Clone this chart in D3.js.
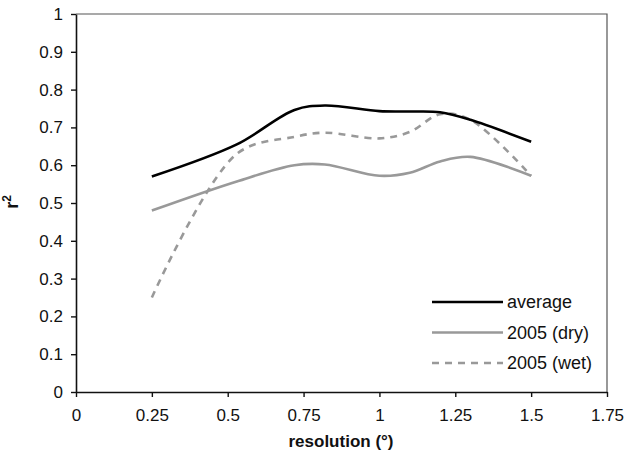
<!DOCTYPE html>
<html>
<head>
<meta charset="utf-8">
<script src="https://cdn.jsdelivr.net/npm/d3@7"></script>
<style>
  body { margin: 0; background: #fff; }
  text { font-family: "Liberation Sans", Arial, sans-serif; fill: #111; }
</style>
</head>
<body>
<div id="chart"></div>
<script>
// data
var resolution = [0.25, 0.53, 0.72, 0.82, 1.0, 1.1, 1.2, 1.3, 1.5];
var average    = [0.57, 0.655, 0.746, 0.758, 0.743, 0.742, 0.74, 0.72, 0.662];
var dry2005    = [0.48, 0.557, 0.60, 0.602, 0.572, 0.58, 0.61, 0.622, 0.572];
var wet2005    = [0.25, 0.63, 0.675, 0.686, 0.671, 0.688, 0.735, 0.72, 0.572];
var xTicks = [0, 0.25, 0.5, 0.75, 1, 1.25, 1.5, 1.75];
var yTicks = [0, 0.1, 0.2, 0.3, 0.4, 0.5, 0.6, 0.7, 0.8, 0.9, 1];

var series = [
  {name: "average", values: average, color: "#000", dash: null},
  {name: "2005 (dry)", values: dry2005, color: "#999", dash: null},
  {name: "2005 (wet)", values: wet2005, color: "#999", dash: "7,6"}
];

var W = 628, H = 458;
var margin = {top: 14, right: 21, bottom: 66, left: 76};
var width = W - margin.left - margin.right,
    height = H - margin.top - margin.bottom;

var svg = d3.select("#chart").append("svg")
  .attr("width", W).attr("height", H)
  .append("g")
  .attr("transform", "translate(" + margin.left + "," + margin.top + ")");

var x = d3.scaleLinear().domain([0, 1.75]).range([0, width]);
var y = d3.scaleLinear().domain([0, 1]).range([height, 0]);

// frame (top and right)
svg.append("path")
  .attr("d", "M0,0H" + width + "V" + height)
  .attr("fill", "none").attr("stroke", "#555").attr("stroke-width", 1.2);

// axes
var xAxis = svg.append("g")
  .attr("transform", "translate(0," + height + ")")
  .call(d3.axisBottom(x).tickValues(xTicks).tickSize(5).tickSizeOuter(0)
    .tickFormat(function(d) { return d3.format("")(d); }));
var yAxis = svg.append("g")
  .call(d3.axisLeft(y).tickValues(yTicks).tickSize(5).tickSizeOuter(0)
    .tickFormat(function(d) { return d3.format("")(d); }));

[xAxis, yAxis].forEach(function(a) {
  a.select(".domain").attr("stroke", "#111").attr("stroke-width", 1.6);
  a.selectAll(".tick line").attr("stroke", "#111").attr("stroke-width", 1.4);
  a.selectAll(".tick text").style("font-size", "17px")
    .style("font-family", "Liberation Sans, Arial, sans-serif").attr("fill", "#111");
});
xAxis.selectAll(".tick text").attr("y", 11).attr("dy", "1.05em");
yAxis.selectAll(".tick text").attr("x", -13);

// lines
var line = d3.line()
  .x(function(d, i) { return x(resolution[i]); })
  .y(function(d) { return y(d); })
  .curve(d3.curveCatmullRom);

series.slice().reverse().forEach(function(s) {
  svg.append("path")
    .datum(s.values)
    .attr("d", line)
    .attr("fill", "none")
    .attr("stroke", s.color)
    .attr("stroke-width", 2.6)
    .attr("stroke-dasharray", s.dash);
});

// legend
var legend = svg.append("g").attr("transform", "translate(356,288)");
series.forEach(function(s, i) {
  var g = legend.append("g").attr("transform", "translate(0," + (i * 30.5) + ")");
  g.append("line").attr("x1", 0).attr("x2", 71)
    .attr("stroke", s.color).attr("stroke-width", 2.6)
    .attr("stroke-dasharray", s.dash);
  g.append("text").attr("x", 75).attr("y", 6)
    .style("font-size", "18px").text(s.name);
});

// axis titles
svg.append("text")
  .attr("x", 265).attr("y", height + 55)
  .attr("text-anchor", "middle")
  .style("font-size", "17px").style("font-weight", "bold")
  .text("resolution (°)");

var yl = svg.append("text")
  .attr("transform", "translate(-58," + (height / 2 - 1) + ")rotate(-90)")
  .attr("text-anchor", "middle")
  .style("font-size", "18px").style("font-weight", "bold");
yl.append("tspan").text("r");
yl.append("tspan").attr("dy", -7).style("font-size", "12px").text("2");
</script>
</body>
</html>
